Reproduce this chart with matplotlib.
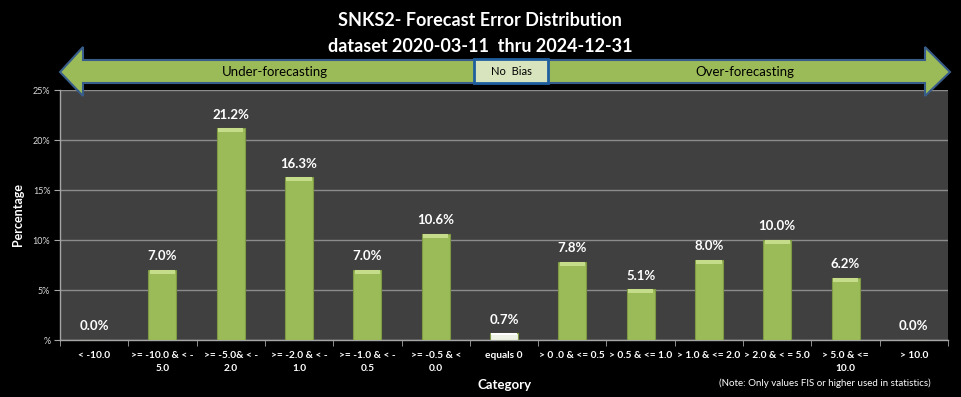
import matplotlib
matplotlib.use("Agg")
import matplotlib.pyplot as plt
from matplotlib.patches import Polygon, Rectangle
import numpy as np

categories = ["< -10.0", ">= -10.0 & < -\n5.0", ">= -5.0& < -\n2.0", ">= -2.0 & < -\n1.0",
              ">= -1.0 & < -\n0.5", ">= -0.5 & <\n0.0", "equals 0", "> 0 .0 & <= 0.5",
              "> 0.5 & <= 1.0", "> 1.0 & <= 2.0", "> 2.0 & < = 5.0", "> 5.0 & <=\n10.0", "> 10.0"]
values = [0.0, 7.0, 21.2, 16.3, 7.0, 10.6, 0.7, 7.8, 5.1, 8.0, 10.0, 6.2, 0.0]
ytick_vals = [0, 5, 10, 15, 20, 25]
ytick_labels = ["%", "5%", "10%", "15%", "20%", "25%"]

FONT = ["Lato", "DejaVu Sans"]
plt.rcParams['font.family'] = FONT

W, H = 961, 397
fig = plt.figure(figsize=(W / 100, H / 100), dpi=100, facecolor="black")

def fx(px):
    return px / W

def fy(py):
    return 1 - py / H

ax = fig.add_axes([fx(60), fy(340), fx(948) - fx(60), fy(90) - fy(340)])
ax.set_facecolor("#404040")

x = np.arange(len(categories))
green = "#9bbb59"
colors = [green] * len(values)
colors[6] = "#eef2e4"
ax.bar(x, values, width=0.41, color=colors, edgecolor="#7f9a45", linewidth=0.8, zorder=3)
# bevel highlight on top of bars
for xi, v, c in zip(x, values, colors):
    if v > 0:
        hl = min(0.35, v * 0.3)
        ax.bar(xi, hl, bottom=v - hl, width=0.37, color="#c5dc8a" if c == green else "#ffffff",
               linewidth=0, zorder=4)
    if v >= 0:
        ax.text(xi, v + 0.75, f"{v:.1f}%", ha="center", va="bottom", color="white",
                fontsize=9.5, fontweight="bold", zorder=5)

ax.set_xlim(-0.5, len(categories) - 0.5)
ax.set_ylim(0, 25)
ax.set_yticks(ytick_vals)
ax.set_yticklabels(ytick_labels, color="#d9d9d9", fontsize=6.5)
ax.yaxis.grid(True, color="#8c8c8c", linewidth=1.0, zorder=0)
ax.set_axisbelow(True)

ax.set_xticks(x)
ax.set_xticklabels(categories, color="white", fontsize=7.3, fontweight="bold", linespacing=1.5)
ax.set_xticks(np.arange(-0.5, len(categories)), minor=True)
ax.tick_params(axis="x", which="major", length=0, pad=8)
ax.tick_params(axis="x", which="minor", length=4, color="#a6a6a6", direction="out")
ax.tick_params(axis="y", length=4, color="#a6a6a6", direction="out", pad=3)

for s in ["top", "right"]:
    ax.spines[s].set_visible(False)
for s in ["left", "bottom"]:
    ax.spines[s].set_color("#a6a6a6")
    ax.spines[s].set_linewidth(1.0)

ax.set_ylabel("Percentage", color="white", fontsize=9, fontweight="bold", labelpad=6)

fig.text(fx(505), fy(385), "Category", color="white", fontsize=9.5, fontweight="bold",
         ha="center", va="center")
fig.text(fx(825), fy(383), "(Note: Only values FIS or higher used in statistics)", color="white",
         fontsize=7, ha="center", va="center")

# titles
fig.text(fx(480), fy(21), "SNKS2- Forecast Error Distribution", color="white", fontsize=13,
         fontweight="bold", ha="center", va="center")
fig.text(fx(480), fy(46), "dataset 2020-03-11  thru 2024-12-31", color="white", fontsize=13,
         fontweight="bold", ha="center", va="center")

# double arrow
pts = [(60, 72), (83, 47), (83, 60), (925, 60), (925, 47), (950, 72),
       (925, 96), (925, 83), (83, 83), (83, 96)]
arrow = Polygon([(fx(a), fy(b)) for a, b in pts], closed=True, transform=fig.transFigure,
                facecolor=green, edgecolor="#385d8a", linewidth=1.5, zorder=10)
fig.patches.append(arrow)
box = Rectangle((fx(474), fy(83)), fx(548) - fx(474), fy(59) - fy(83), transform=fig.transFigure,
                facecolor="#d7e4bd", edgecolor="#1f5f9f", linewidth=2, zorder=11)
fig.patches.append(box)
fig.text(fx(511), fy(71.5), "No  Bias", color="black", fontsize=8, ha="center", va="center", zorder=12)
fig.text(fx(275), fy(72), "Under-forecasting", color="black", fontsize=9.5, ha="center", va="center", zorder=12)
fig.text(fx(745), fy(72), "Over-forecasting", color="black", fontsize=9.5, ha="center", va="center", zorder=12)

fig.savefig("out.png", dpi=100, facecolor="black")
